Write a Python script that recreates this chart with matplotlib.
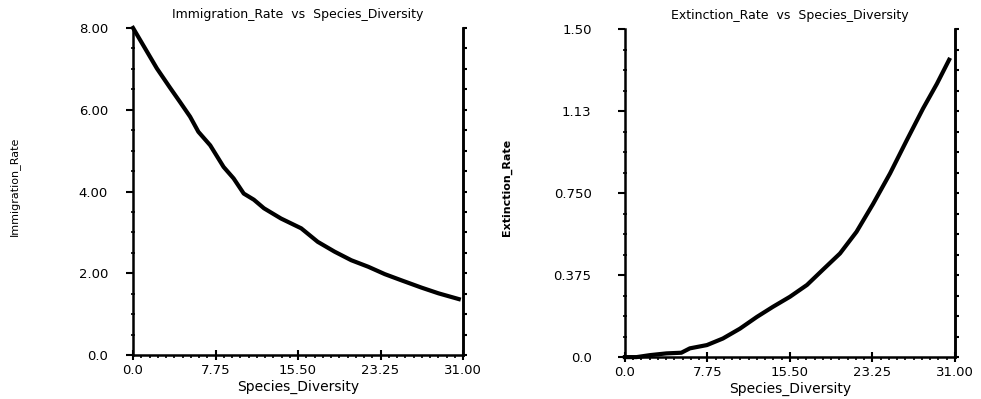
import matplotlib.pyplot as plt
import numpy as np

# values
imm_x = [0, 2.24, 3.47, 4.41, 5.36, 6.14, 7.25, 8.51, 9.45, 10.4, 11.35,
         12.3, 13.9, 15.8, 17.35, 18.93, 20.5, 22.1, 23.65, 25.2, 27.1, 28.7, 30.6]
imm_y = [8.0, 7.01, 6.54, 6.19, 5.83, 5.46, 5.13, 4.60, 4.32, 3.95, 3.80,
         3.59, 3.34, 3.10, 2.77, 2.53, 2.32, 2.16, 1.98, 1.83, 1.65, 1.51, 1.37]

ext_x = [0, 1.1, 2.35, 3.9, 5.3, 6.1, 7.7, 9.2, 10.8, 12.4, 13.9, 15.5, 17.1,
         18.6, 20.2, 21.75, 23.3, 24.9, 26.45, 28.0, 29.3, 30.45]
ext_y = [0, 0, 0.009, 0.017, 0.02, 0.04, 0.055, 0.085, 0.13, 0.184, 0.23, 0.276, 0.33,
         0.40, 0.474, 0.573, 0.70, 0.84, 0.99, 1.137, 1.25, 1.36]

x_ticks = [0, 7.75, 15.5, 23.25, 31.0]
x_labels = ['0.0', '7.75', '15.50', '23.25', '31.00']
imm_ticks = [0, 2, 4, 6, 8]
imm_labels = ['0.0', '2.00', '4.00', '6.00', '8.00']
ext_ticks = [0, 0.375, 0.75, 1.125, 1.5]
ext_labels = ['0.0', '0.375', '0.750', '1.13', '1.50']

plt.rcParams['font.family'] = ['DejaVu Sans']

fig = plt.figure(figsize=(9.81, 3.99), dpi=100)
ax1 = fig.add_axes([0.1356, 0.110, 0.3364, 0.820])
ax2 = fig.add_axes([0.637, 0.105, 0.3365, 0.822])


def style(ax, xs, ys, yt, yl, ymax, title, ylabel, ybold, ypad):
    ax.plot(xs, ys, color='black', lw=3.0, clip_on=False, zorder=5,
            solid_joinstyle='round')
    ax.set_xlim(0, 31)
    ax.set_ylim(0, ymax)
    ax.set_xticks(x_ticks)
    ax.set_xticklabels(x_labels)
    ax.set_yticks(yt)
    ax.set_yticklabels(yl)
    ax.set_xticks(np.arange(0, 31.01, 0.775), minor=True)
    ax.set_yticks(np.linspace(0, ymax, 17), minor=True)
    ax.spines['top'].set_visible(False)
    for s in ['left', 'bottom', 'right']:
        ax.spines[s].set_linewidth(1.8)
    ax.tick_params(axis='y', which='major', direction='out', length=5, width=1.5,
                   labelsize=9.5, pad=ypad, right=False)
    ax.tick_params(axis='y', which='minor', direction='inout', length=3, width=1.2)
    ax.tick_params(axis='x', which='major', direction='inout', length=7, width=1.5,
                   labelsize=9.5, pad=3)
    ax.tick_params(axis='x', which='minor', direction='out', length=2, width=1.2)
    # ticks on the right spine
    sec = ax.secondary_yaxis('right')
    sec.set_yticks(np.linspace(0, ymax, 17))
    sec.set_yticklabels([])
    sec.tick_params(direction='out', length=3, width=1.5)
    sec.spines['right'].set_linewidth(1.8)
    ax.set_title(title, fontsize=9, pad=7)
    ax.set_xlabel('Species_Diversity', fontsize=10, labelpad=2)
    ax.set_ylabel(ylabel, fontsize=8, fontweight='bold' if ybold else 'normal')
    ax.yaxis.set_label_coords(-0.342, 0.516)


style(ax1, imm_x, imm_y, imm_ticks, imm_labels, 8.0,
      'Immigration_Rate  vs  Species_Diversity', 'Immigration_Rate', False, 13)
style(ax2, ext_x, ext_y, ext_ticks, ext_labels, 1.5,
      'Extinction_Rate  vs  Species_Diversity', 'Extinction_Rate', True, 19)

fig.savefig('out.png', dpi=100)
